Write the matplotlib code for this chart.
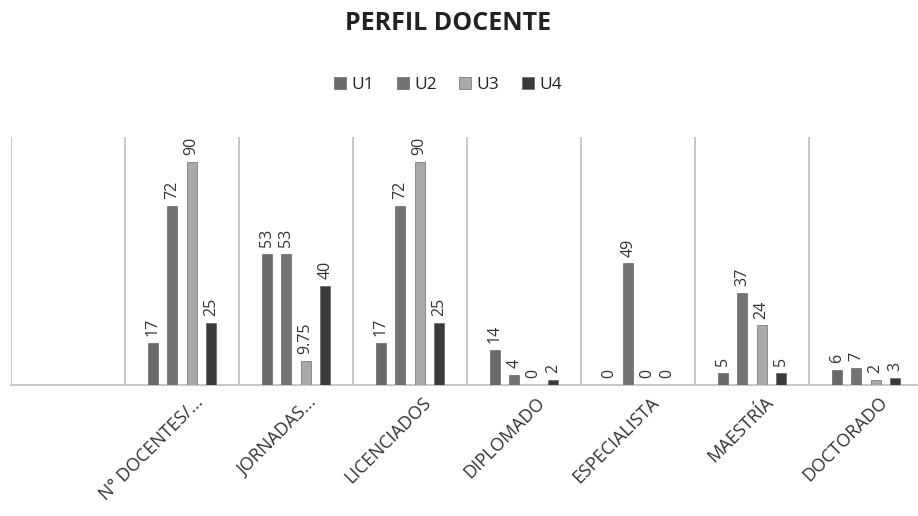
import numpy as np
import matplotlib.pyplot as plt
import matplotlib.transforms as mtransforms

categories = ['', 'N° DOCENTES/...', 'JORNADAS...', 'LICENCIADOS', 'DIPLOMADO',
              'ESPECIALISTA', 'MAESTRÍA', 'DOCTORADO']
u1 = [np.nan, 17, 53, 17, 14, 0, 5, 6]
u2 = [np.nan, 72, 53, 72, 4, 49, 37, 7]
u3 = [np.nan, 90, 9.75, 90, 0, 0, 24, 2]
u4 = [np.nan, 25, 40, 25, 2, 0, 5, 3]
series = {'U1': u1, 'U2': u2, 'U3': u3, 'U4': u4}
colors = {'U1': '#6a6a6a', 'U2': '#737373', 'U3': '#a9a9a9', 'U4': '#3a3a3a'}

plt.rcParams['font.family'] = ['Open Sans', 'DejaVu Sans']

fig = plt.figure(figsize=(9.18, 5.16), dpi=100)
ax = fig.add_axes([11 / 918, 131 / 516, 912 / 918, 248 / 516])

x = np.arange(len(categories))
step = 0.171
width = 0.088
for i, (name, vals) in enumerate(series.items()):
    pos = x + (i - 1.5) * step
    ax.bar(pos, vals, width, color=colors[name], edgecolor='#555555',
           linewidth=0.4, label=name, zorder=3)
    for px_, v in zip(pos, vals):
        if np.isnan(v):
            continue
        ax.annotate(f'{v:g}', (px_, v), xytext=(0, 5), textcoords='offset points',
                    rotation=90, ha='center', va='bottom', fontsize=11.5,
                    color='#333333')

ax.set_xlim(-0.5, len(categories) - 0.5)
ax.set_ylim(0, 100)
ax.set_yticks([])
ax.set_xticks(x)
ax.set_xticklabels(categories, rotation=45, ha='right', rotation_mode='anchor',
                   fontsize=13, color='#333333')
ax.tick_params(axis='x', length=0, pad=6)
shift = mtransforms.ScaledTranslation(12 / 100, 0, fig.dpi_scale_trans)
for lbl in ax.get_xticklabels():
    lbl.set_transform(lbl.get_transform() + shift)
for b in np.arange(-0.5, len(categories), 1.0):
    ax.axvline(b, color='#bfbfbf', linewidth=1.2, zorder=1)
for s in ['top', 'right', 'left']:
    ax.spines[s].set_visible(False)
ax.spines['bottom'].set_color('#bfbfbf')
ax.spines['bottom'].set_linewidth(1.2)

fig.text(0.488, 0.955, 'PERFIL DOCENTE', ha='center', va='center',
         fontsize=18, fontweight='bold', color='#222222')
fig.legend(loc='center', bbox_to_anchor=(0.488, 0.835), ncol=4, frameon=False,
           fontsize=12.5, handlelength=0.7, handleheight=0.7, handletextpad=0.3,
           columnspacing=1.3, labelcolor='#222222')

fig.savefig('out.png', dpi=100)
